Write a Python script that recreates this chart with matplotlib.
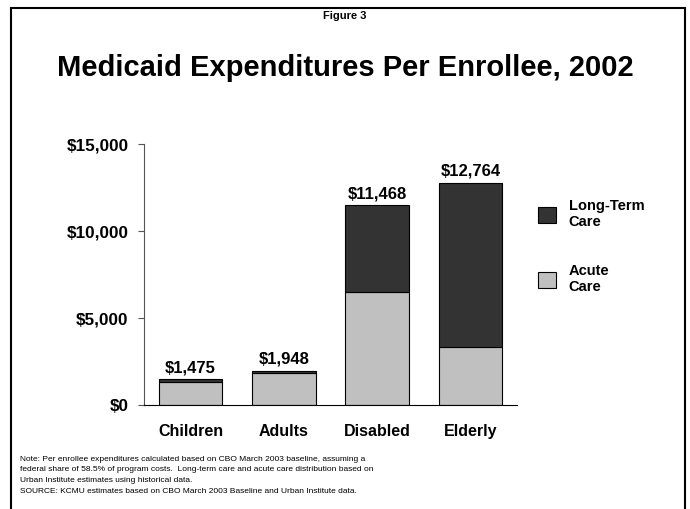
import matplotlib.pyplot as plt
from matplotlib.patches import Rectangle

plt.rcParams['font.family'] = ['Liberation Sans', 'DejaVu Sans']

groups = ['Children', 'Adults', 'Disabled', 'Elderly']
acute = [1300, 1830, 6500, 3350]
totals = [1475, 1948, 11468, 12764]
long_term = [t - a for t, a in zip(totals, acute)]
yticks = [0, 5000, 10000, 15000]
ytick_labels = ['$0', '$5,000', '$10,000', '$15,000']

note = ('Note: Per enrollee expenditures calculated based on CBO March 2003 baseline, assuming a\n'
        'federal share of 58.5% of program costs.  Long-term care and acute care distribution based on\n'
        'Urban Institute estimates using historical data.\n'
        'SOURCE: KCMU estimates based on CBO March 2003 Baseline and Urban Institute data.')

fig = plt.figure(figsize=(6.9, 5.09), dpi=100)
ax = fig.add_axes([0.2087, 0.2043, 0.5406, 0.5127])

x = range(len(groups))
b1 = ax.bar(x, acute, width=0.68, color='#c0c0c0', edgecolor='black', linewidth=0.8, label='Acute\nCare')
b2 = ax.bar(x, long_term, width=0.68, bottom=acute, color='#333333', edgecolor='black', linewidth=0.8,
            label='Long-Term\nCare')
for i, t in enumerate(totals):
    ax.text(i, t + 250, '${:,}'.format(t), ha='center', va='bottom', fontsize=12, fontweight='bold')

ax.set_xlim(-0.5, 3.5)
ax.set_ylim(0, 15000)
ax.set_yticks(yticks)
ax.set_yticklabels(ytick_labels, fontsize=12.3, fontweight='bold')
ax.set_xticks(list(x))
ax.set_xticklabels(groups, fontsize=11.5, fontweight='bold')
ax.tick_params(axis='x', length=0, pad=14)
ax.tick_params(axis='y', length=4, pad=7, color='#555555')
for s in ['top', 'right']:
    ax.spines[s].set_visible(False)
ax.spines['left'].set_color('#555555')
ax.spines['bottom'].set_color('black')

leg = fig.legend(handles=[b2, b1], loc='upper left', bbox_to_anchor=(0.761, 0.635), frameon=False,
                 prop={'size': 10.5, 'weight': 'bold'}, labelspacing=2.4, handlelength=1.2,
                 handleheight=1.3, handletextpad=0.9)

fig.text(0.5, 0.968, 'Figure 3', ha='center', va='center', fontsize=8, fontweight='bold')
fig.text(0.5, 0.866, 'Medicaid Expenditures Per Enrollee, 2002', ha='center', va='center',
         fontsize=21, fontweight='bold')
fig.text(0.029, 0.105, note, ha='left', va='top', fontsize=6.0, linespacing=1.75)

fig.patches.append(Rectangle((0.016, -0.05), 0.977, 1.035, transform=fig.transFigure,
                             fill=False, edgecolor='black', linewidth=1.5))

fig.savefig('out.png', dpi=100)
